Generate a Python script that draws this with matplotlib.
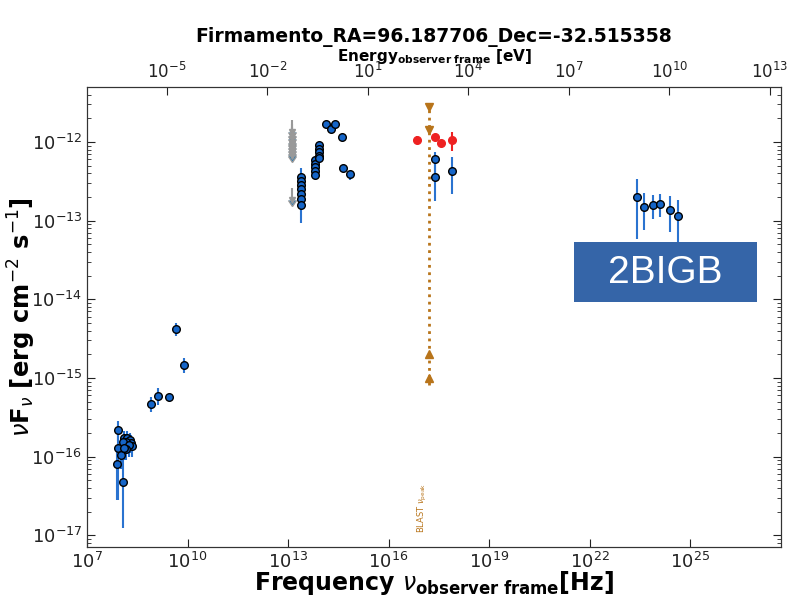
import numpy as np
import matplotlib
matplotlib.use("Agg")
import matplotlib.pyplot as plt
from matplotlib.patches import Rectangle

# ---------------- data ----------------
# radio / low-frequency blue points
radio_nu = [4.6e9, 8.1e9, 1.3e9, 2.9e9, 8.0e8, 8.7e7, 8.7e7, 8.1e7, 1.15e8, 1.0e8,
            1.3e8, 1.6e8, 1.9e8, 2.1e8, 2.2e8, 1.45e8, 1.15e8, 1.75e8, 1.5e8, 1.3e8]
radio_f = [4.2e-15, 1.45e-15, 5.9e-16, 5.8e-16, 4.7e-16, 2.2e-16, 1.3e-16, 8.0e-17, 4.8e-17, 1.05e-16,
           1.75e-16, 1.75e-16, 1.65e-16, 1.5e-16, 1.35e-16, 1.55e-16, 1.55e-16, 1.4e-16, 1.25e-16, 1.3e-16]
radio_lo = [3.4e-15, 1.15e-15, 4.6e-16, 5.5e-16, 3.7e-16, 1.6e-16, 2.8e-17, 2.8e-17, 1.25e-17, 7e-17,
            1.3e-16, 1.3e-16, 1.2e-16, 1.1e-16, 1.0e-16, 1.1e-16, 1.1e-16, 1.0e-16, 9e-17, 9e-17]
radio_hi = [5.0e-15, 1.8e-15, 7.4e-16, 6.1e-16, 5.8e-16, 2.8e-16, 2.2e-16, 1.3e-16, 1.7e-16, 1.5e-16,
            2.1e-16, 2.1e-16, 2.0e-16, 1.9e-16, 1.7e-16, 1.9e-16, 1.9e-16, 1.7e-16, 1.6e-16, 1.6e-16]

# IR / optical blue points
opt_nu = [2.45e13] * 7 + [6.5e13] * 5 + [8.7e13] * 5 + [1.38e14, 1.86e14, 2.45e14, 3.98e14, 4.47e14, 6.9e14]
opt_f = [3.6e-13, 3.2e-13, 2.8e-13, 2.5e-13, 2.2e-13, 1.9e-13, 1.6e-13,
         5.9e-13, 5.3e-13, 4.8e-13, 4.3e-13, 3.8e-13,
         9.1e-13, 8.2e-13, 7.4e-13, 6.7e-13, 6.3e-13,
         1.7e-12, 1.45e-12, 1.7e-12, 1.17e-12, 4.7e-13, 3.9e-13]
opt_lo = [3.3e-13, 2.9e-13, 2.5e-13, 2.2e-13, 1.9e-13, 1.6e-13, 9.3e-14,
          5.6e-13, 5.0e-13, 4.5e-13, 4.0e-13, 3.5e-13,
          8.8e-13, 7.9e-13, 7.1e-13, 6.4e-13, 6.0e-13,
          1.65e-12, 1.4e-12, 1.65e-12, 1.13e-12, 4.5e-13, 3.3e-13]
opt_hi = [4.7e-13, 3.5e-13, 3.1e-13, 2.8e-13, 2.5e-13, 2.2e-13, 1.9e-13,
          6.2e-13, 5.6e-13, 5.1e-13, 4.6e-13, 4.1e-13,
          9.4e-13, 8.5e-13, 7.7e-13, 7.0e-13, 6.6e-13,
          1.75e-12, 1.5e-12, 1.75e-12, 1.21e-12, 4.9e-13, 4.3e-13]

# gray upper limits
ul_nu = [1.32e13] * 10
ul_f = [1.9e-12, 1.7e-12, 1.55e-12, 1.4e-12, 1.3e-12, 1.2e-12, 1.1e-12, 1.0e-12, 9.5e-13, 2.6e-13]

# X-ray red points
xr_nu = [7.1e16, 2.5e17, 3.7e17, 7.6e17]
xr_f = [1.07e-12, 1.17e-12, 9.8e-13, 1.06e-12]
xr_lo = [9.6e-13, 1.1e-12, 9.3e-13, 7.6e-13]
xr_hi = [1.2e-12, 1.25e-12, 1.04e-12, 1.35e-12]

# X-ray blue points
xb_nu = [2.5e17, 2.5e17, 7.6e17]
xb_f = [6.0e-13, 3.6e-13, 4.3e-13]
xb_lo = [3.6e-13, 1.8e-13, 2.2e-13]
xb_hi = [7.5e-13, 6.0e-13, 6.5e-13]

# gamma-ray points
g_nu = [2.57e23, 4.37e23, 7.76e23, 1.29e24, 2.57e24, 4.37e24]
g_f = [2.0e-13, 1.5e-13, 1.6e-13, 1.64e-13, 1.38e-13, 1.15e-13]
g_lo = [5.9e-14, 7.6e-14, 1.05e-13, 1.12e-13, 7.1e-14, 5.2e-14]
g_hi = [3.4e-13, 2.24e-13, 2.14e-13, 2.19e-13, 2.04e-13, 1.82e-13]

# BLAST peak estimate
blast_nu = 1.62e17
blast_up = [2.8e-12, 1.4e-12]
blast_low = [2.0e-15, 1.0e-15]
blast_line = [8.1e-16, 3.4e-12]

h_ev = 4.135667e-15
xlim = [1e7, 5.2e27]
ylim = [7.1e-18, 5.0e-12]
bottom_ticks = [1e7, 1e10, 1e13, 1e16, 1e19, 1e22, 1e25]
top_ticks = [1e-5, 1e-2, 1e1, 1e4, 1e7, 1e10, 1e13]

# ---------------- plot ----------------
blue = '#1565c8'
ebar_blue = '#2a73d0'
orange = '#b8741a'

fig = plt.figure(figsize=(7.94, 5.99), dpi=100)
ax = fig.add_axes([87 / 794, 1 - 547 / 599, (781 - 87) / 794, (547 - 87) / 599])
ax.set_xscale('log')
ax.set_yscale('log')


def eb(nu, f, lo, hi, mfc, ecol, mec, zorder=3):
    f = np.array(f)
    yerr = [f - np.array(lo), np.array(hi) - f]
    ax.errorbar(nu, f, yerr=yerr, fmt='o', ms=5.5, mfc=mfc, mec=mec, mew=1.0,
                ecolor=ecol, elinewidth=1.5, capsize=0, zorder=zorder)


eb(radio_nu, radio_f, radio_lo, radio_hi, blue, ebar_blue, 'black')
eb(opt_nu, opt_f, opt_lo, opt_hi, blue, ebar_blue, 'black')
eb(xb_nu, xb_f, xb_lo, xb_hi, blue, ebar_blue, 'black')
eb(g_nu, g_f, g_lo, g_hi, blue, ebar_blue, 'black')
eb(xr_nu, xr_f, xr_lo, xr_hi, '#ee2222', '#ee2222', '#ee2222')

# upper limits
ul_f_arr = np.array(ul_f)
ax.errorbar(ul_nu, ul_f_arr, yerr=ul_f_arr * 0.3, uplims=True, fmt='none',
            ecolor='#999999', elinewidth=1.5, capsize=0, zorder=2)
ax.plot(ul_nu, ul_f_arr * 0.7, 'v', color='#999999', ms=5, zorder=2)

# BLAST
ax.plot([blast_nu, blast_nu], blast_line, ':', color=orange, lw=2, zorder=4)
ax.plot([blast_nu] * 2, blast_up, 'v', color=orange, ms=6, zorder=4)
ax.plot([blast_nu] * 2, blast_low, '^', color=orange, ms=6, zorder=4)
ax.text(blast_nu, 2.2e-17, r'BLAST $\nu_{\rm peak}$', rotation=90, color=orange,
        fontsize=6, ha='right', va='center')

ax.set_xlim(xlim)
ax.set_ylim(ylim)
ax.set_xticks(bottom_ticks)
ax.tick_params(axis='both', which='both', direction='in', right=True, labelsize=13,
               colors='#222222')
ax.tick_params(axis='x', which='both', top=False)
ax.tick_params(which='major', length=6)
ax.tick_params(which='minor', length=3)
ax.xaxis.set_minor_locator(matplotlib.ticker.NullLocator())

ax.set_xlabel(r'Frequency $\nu_{\mathbf{observer\ frame}}$[Hz]', fontsize=17, fontweight='bold')
ax.set_ylabel(r'$\nu$F$_\nu$ [erg cm$^{-2}$ s$^{-1}$]', fontsize=17.5, fontweight='bold')
ax.xaxis.set_label_coords(0.5, -(583 - 547) / 460)
ax.yaxis.set_label_coords(-(65 / 694), 0.5)
ax.xaxis.label.set_va('center')
ax.yaxis.label.set_va('center')
ax.yaxis.label.set_ha('center')

ax2 = ax.twiny()
ax2.set_xscale('log')
ax2.set_xlim(xlim[0] * h_ev, xlim[1] * h_ev)
ax2.set_xticks(top_ticks)
ax2.xaxis.set_minor_locator(matplotlib.ticker.NullLocator())
ax2.tick_params(axis='x', direction='in', labelsize=12, length=6, colors='#222222')
ax2.set_xlabel(r'Energy$_{\mathbf{observer\ frame}}$ [eV]', fontsize=11, fontweight='bold',
               labelpad=1)
fig.text(0.546, 1 - 37 / 599, 'Firmamento_RA=96.187706_Dec=-32.515358', fontsize=13.5,
         fontweight='bold', ha='center', va='center')

for a in (ax, ax2):
    for s in a.spines.values():
        s.set_color('#333333')

# 2BIGB box
fig.patches.append(Rectangle((574 / 794, 1 - 302 / 599), 183 / 794, 60 / 599,
                             transform=fig.transFigure, facecolor='#3565a8',
                             edgecolor='none', zorder=10))
fig.text((574 + 757) / 2 / 794, 1 - 273 / 599, '2BIGB', color='white', fontsize=28,
         family='Liberation Sans', ha='center', va='center', zorder=11)

fig.savefig('out.png', dpi=100)
